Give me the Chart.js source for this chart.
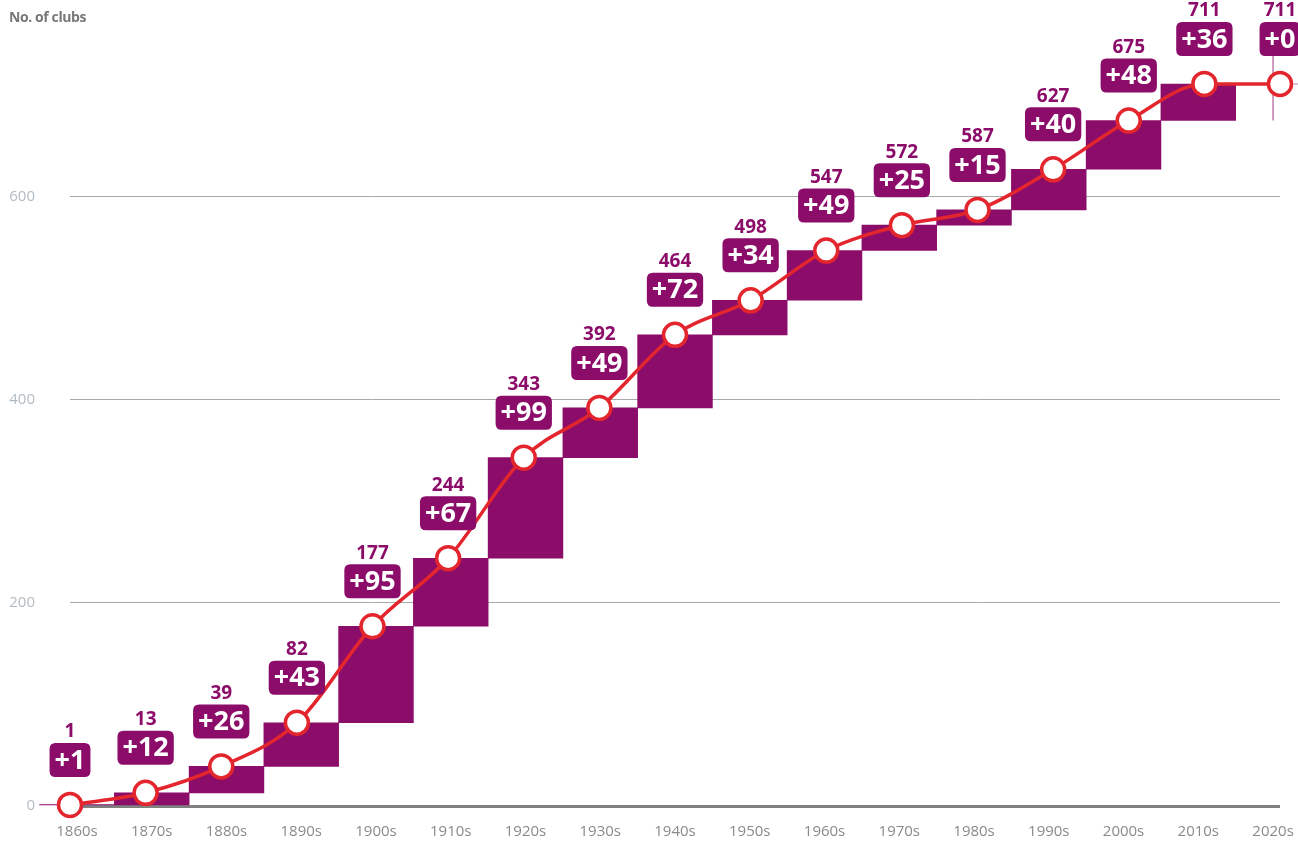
<!DOCTYPE html>
<html>
<head>
<meta charset="utf-8">
<title>No. of clubs by decade</title>
<script src="https://cdn.jsdelivr.net/npm/chart.js@4.4.1/dist/chart.umd.min.js"></script>
<style>
  html, body { margin: 0; padding: 0; background: #ffffff; }
  canvas { display: block; }
</style>
</head>
<body>
<canvas id="clubs" width="1298" height="844"></canvas>
<script>
// Decades on the horizontal axis
const decades = ['1860s', '1870s', '1880s', '1890s', '1900s', '1910s', '1920s', '1930s', '1940s',
                 '1950s', '1960s', '1970s', '1980s', '1990s', '2000s', '2010s', '2020s'];
// Running total of clubs at the end of each decade
const clubTotals = [1, 13, 39, 82, 177, 244, 343, 392, 464, 498, 547, 572, 587, 627, 675, 711, 711];
// Clubs added during each decade
const newClubs = [1, 12, 26, 43, 95, 67, 99, 49, 72, 34, 49, 25, 15, 40, 48, 36, 0];
// Value axis ticks
const yTickValues = [0, 200, 400, 600];
const yAxisTitle = 'No. of clubs';

const PURPLE = '#8c0c69';
const RED = '#e3262d';
const FONT = '"Open Sans", "Liberation Sans", "DejaVu Sans", sans-serif';

// floating bars: one step per decade, from the previous total up to the new total
const stepBars = decades.map((d, i) => ({ x: i, y: [clubTotals[i] - newClubs[i], clubTotals[i]] }));
const totalPoints = decades.map((d, i) => ({ x: i, y: clubTotals[i] }));

function roundRect(ctx, x, y, w, h, r) {
  ctx.beginPath();
  ctx.moveTo(x + r, y);
  ctx.lineTo(x + w - r, y);
  ctx.quadraticCurveTo(x + w, y, x + w, y + r);
  ctx.lineTo(x + w, y + h - r);
  ctx.quadraticCurveTo(x + w, y + h, x + w - r, y + h);
  ctx.lineTo(x + r, y + h);
  ctx.quadraticCurveTo(x, y + h, x, y + h - r);
  ctx.lineTo(x, y + r);
  ctx.quadraticCurveTo(x, y, x + r, y);
  ctx.closePath();
}

const LABEL_GAP = 28;   // space between a point and the bottom of its badge
const BADGE_H = 34;

// thin stem under a badge when a decade adds no clubs
const stemPlugin = {
  id: 'zeroStem',
  beforeDatasetsDraw(chart) {
    const ctx = chart.ctx;
    const pts = chart.getDatasetMeta(0).data;
    const xs = chart.scales.x, ys = chart.scales.y;
    ctx.save();
    ctx.strokeStyle = 'rgba(140, 12, 105, 0.55)';
    ctx.lineWidth = 1.5;
    newClubs.forEach((n, i) => {
      if (n !== 0 || i === 0) return;
      const sx = xs.getPixelForValue(i);
      const top = pts[i].y - LABEL_GAP;
      const bottom = ys.getPixelForValue(clubTotals[i - 1] - newClubs[i - 1]);
      ctx.beginPath();
      ctx.moveTo(sx, top);
      ctx.lineTo(sx, bottom);
      ctx.stroke();
    });
    ctx.restore();
  }
};

// badges with the decade's increase and the running total above them
const labelPlugin = {
  id: 'stepLabels',
  afterDatasetsDraw(chart) {
    const ctx = chart.ctx;
    const pts = chart.getDatasetMeta(0).data;
    ctx.save();
    ctx.textAlign = 'center';
    ctx.textBaseline = 'middle';
    pts.forEach((pt, i) => {
      const cx = pt.x;
      const boxBottom = pt.y - LABEL_GAP;
      const boxTop = boxBottom - BADGE_H;
      const txt = '+' + newClubs[i];
      ctx.font = 'bold 27px ' + FONT;
      const w = ctx.measureText(txt).width + 10;
      ctx.fillStyle = PURPLE;
      roundRect(ctx, cx - w / 2, boxTop, w, BADGE_H, 6);
      ctx.fill();
      ctx.fillStyle = '#ffffff';
      ctx.fillText(txt, cx, boxTop + BADGE_H / 2 + 1);
      ctx.font = 'bold 19px ' + FONT;
      ctx.fillStyle = PURPLE;
      ctx.fillText(String(clubTotals[i]), cx, boxTop - 11);
    });
    ctx.restore();
  },
  afterDraw(chart) {
    const ctx = chart.ctx;
    ctx.save();
    ctx.font = 'bold 14px ' + FONT;
    ctx.fillStyle = '#777777';
    ctx.textAlign = 'left';
    ctx.textBaseline = 'middle';
    if ('letterSpacing' in ctx) ctx.letterSpacing = '-0.4px';
    ctx.fillText(yAxisTitle, 9, 18);
    ctx.restore();
  }
};

new Chart(document.getElementById('clubs'), {
  type: 'bar',
  data: {
    datasets: [
      {
        type: 'line',
        label: 'Total clubs',
        data: totalPoints,
        xAxisID: 'xl',
        yAxisID: 'y',
        order: 0,
        borderColor: RED,
        borderWidth: 3.5,
        cubicInterpolationMode: 'monotone',
        pointRadius: 11.5,
        pointBorderWidth: 3.5,
        pointBackgroundColor: '#ffffff',
        pointBorderColor: RED,
        clip: false
      },
      {
        type: 'bar',
        label: 'New clubs',
        data: stepBars,
        xAxisID: 'x',
        yAxisID: 'y',
        order: 1,
        backgroundColor: PURPLE,
        borderWidth: 0,
        borderSkipped: false,
        barPercentage: 1,
        categoryPercentage: 1,
        grouped: false,
        clip: false
      }
    ]
  },
  plugins: [stemPlugin, labelPlugin],
  options: {
    responsive: false,
    animation: false,
    layout: { padding: { left: 9, right: 18, top: 20, bottom: 0 } },
    plugins: {
      legend: { display: false },
      tooltip: { enabled: false },
      title: { display: false }
    },
    scales: {
      x: {
        type: 'linear',
        position: 'bottom',
        offset: false,
        min: -0.0936,
        max: 16.093,
        grid: { display: false, drawTicks: false, offset: false },
        border: { display: false },
        ticks: {
          stepSize: 1,
          includeBounds: false,
          autoSkip: false,
          maxRotation: 0,
          padding: 17,
          color: '#8a8a8a',
          font: { family: FONT, size: 15 },
          callback: (v) => decades[v] ?? ''
        },
        afterFit: (s) => { s.height = 38; s.paddingLeft = 0; s.paddingRight = 0; }
      },
      xl: {
        type: 'linear',
        offset: false,
        min: 0,
        max: decades.length - 1,
        display: false,
        grid: { offset: false }
      },
      y: {
        type: 'linear',
        min: 0,
        max: 774,
        grid: {
          drawTicks: false,
          color: (c) => (c.tick && c.tick.value === 0 ? '#808080' : '#a8a8a8'),
          lineWidth: (c) => (c.tick && c.tick.value === 0 ? 3 : 1)
        },
        border: { display: false },
        afterBuildTicks: (s) => { s.ticks = yTickValues.map(v => ({ value: v })); },
        ticks: {
          padding: 35,
          color: '#b3bbc3',
          font: { family: FONT, size: 15 }
        },
        afterFit: (s) => { s.width = 61; s.paddingTop = 0; s.paddingBottom = 0; }
      }
    }
  }
});
</script>
</body>
</html>
